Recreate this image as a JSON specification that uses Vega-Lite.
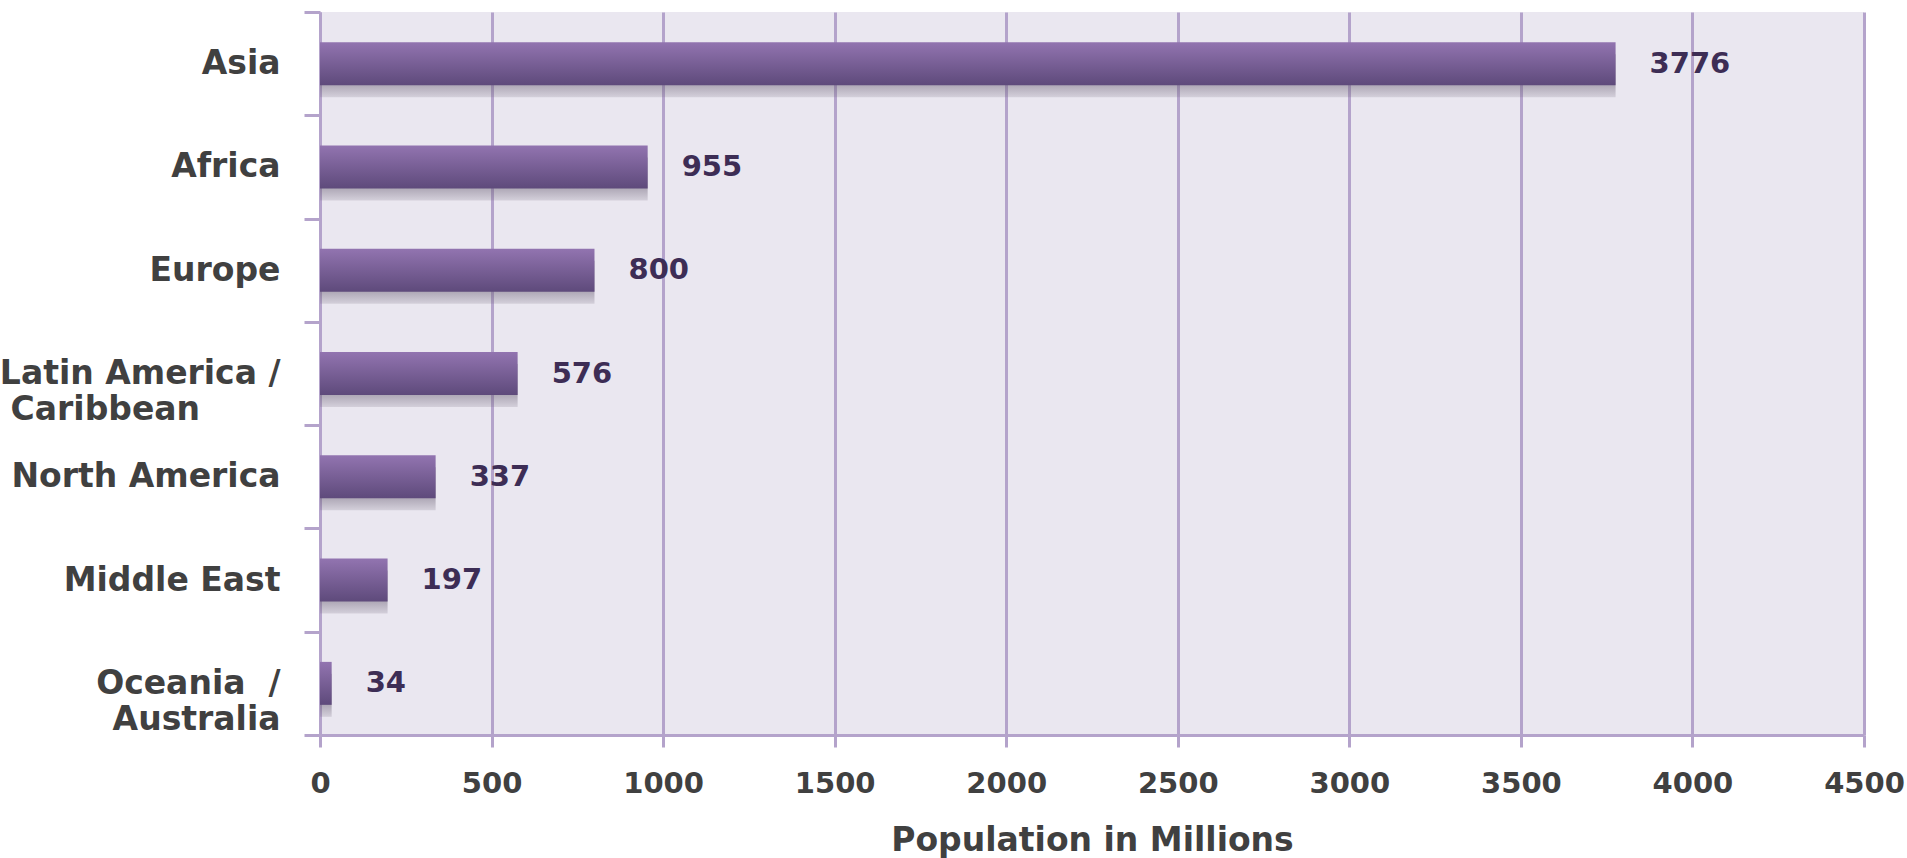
{
  "$schema": "https://vega.github.io/schema/vega-lite/v6.json",
  "width": 1544,
  "height": 723,
  "autosize": "none",
  "padding": {"left": 320, "top": 12, "right": 43, "bottom": 123},
  "background": "white",
  "config": {
    "view": {"fill": "#EAE7F0", "stroke": null},
    "font": "DejaVu Sans"
  },
  "data": {
    "values": [
      {"region": "Asia", "population": 3776},
      {"region": "Africa", "population": 955},
      {"region": "Europe", "population": 800},
      {"region": "Latin America / Caribbean", "population": 576},
      {"region": "North America", "population": 337},
      {"region": "Middle East", "population": 197},
      {"region": "Oceania / Australia", "population": 34}
    ]
  },
  "encoding": {
    "y": {
      "field": "region",
      "type": "nominal",
      "sort": null,
      "scale": {"paddingInner": 0, "paddingOuter": 0},
      "axis": {
        "title": null,
        "tickBand": "extent",
        "grid": false,
        "domainColor": "#B4A3CB",
        "domainWidth": 3,
        "tickColor": "#B4A3CB",
        "tickWidth": 3,
        "tickSize": 16,
        "labelPadding": 24,
        "labelFont": "DejaVu Sans",
        "labelFontSize": 33,
        "labelFontWeight": "bold",
        "labelColor": "#404040",
        "labelLineHeight": 36,
        "labelLimit": 600,
        "labelExpr": "datum.value == 'Latin America / Caribbean' ? ['Latin America /', 'Caribbean\u00a0\u00a0\u00a0\u00a0\u00a0\u00a0\u00a0\u200b'] : datum.value == 'Oceania / Australia' ? ['Oceania\u00a0\u00a0/', 'Australia'] : datum.value"
      }
    },
    "x": {
      "field": "population",
      "type": "quantitative",
      "scale": {"domain": [0, 4500], "nice": false},
      "axis": {
        "title": "Population in Millions",
        "values": [0, 500, 1000, 1500, 2000, 2500, 3000, 3500, 4000, 4500],
        "format": "d",
        "grid": true,
        "gridColor": "#B4A3CB",
        "gridWidth": 3,
        "gridOpacity": 1,
        "domainColor": "#B4A3CB",
        "domainWidth": 3,
        "tickColor": "#B4A3CB",
        "tickWidth": 3,
        "tickSize": 12,
        "labelFont": "DejaVu Sans",
        "labelFontSize": 29,
        "labelFontWeight": "bold",
        "labelColor": "#404040",
        "labelBaseline": "alphabetic",
        "labelPadding": 45,
        "labelFlush": false,
        "labelOverlap": false,
        "titleFont": "DejaVu Sans",
        "titleFontSize": 33,
        "titleFontWeight": "bold",
        "titleColor": "#404040",
        "titleBaseline": "alphabetic",
        "titleY": 115
      }
    }
  },
  "layer": [
    {
      "mark": {
        "type": "bar",
        "height": {"band": 0.416},
        "yOffset": 12,
        "color": {
          "gradient": "linear",
          "x1": 0, "y1": 0, "x2": 0, "y2": 1,
          "stops": [
            {"offset": 0.7, "color": "rgba(110,100,120,0.5)"},
            {"offset": 1, "color": "rgba(110,100,120,0.18)"}
          ]
        }
      }
    },
    {
      "mark": {
        "type": "bar",
        "height": {"band": 0.416},
        "color": {
          "gradient": "linear",
          "x1": 0, "y1": 0, "x2": 0, "y2": 1,
          "stops": [
            {"offset": 0, "color": "#9274B0"},
            {"offset": 1, "color": "#5E4A7B"}
          ]
        }
      }
    },
    {
      "mark": {
        "type": "text",
        "align": "left",
        "baseline": "middle",
        "dx": 34,
        "font": "DejaVu Sans",
        "fontSize": 29,
        "fontWeight": "bold",
        "color": "#3D2D55"
      },
      "encoding": {"text": {"field": "population", "type": "quantitative"}}
    }
  ]
}
